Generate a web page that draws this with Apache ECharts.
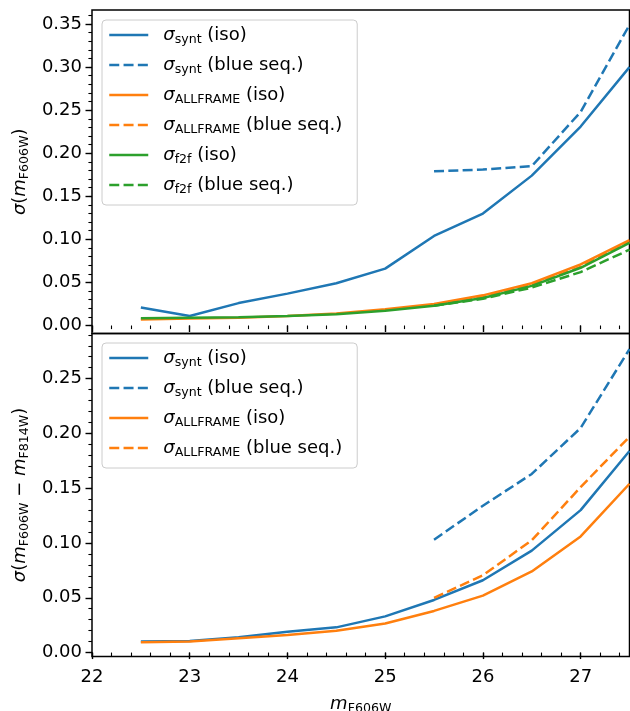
<!DOCTYPE html>
<html>
<head>
<meta charset="utf-8">
<script src="https://cdn.jsdelivr.net/npm/echarts@6/dist/echarts.min.js"></script>
<style>
  html, body { margin: 0; padding: 0; background: #fff; }
  #chart { width: 630px; height: 711px; }
</style>
</head>
<body>
<div id="chart"></div>
<script>
// magnitude bins (x)
const mag = [22.5, 23, 23.5, 24, 24.5, 25, 25.5, 26, 26.5, 27, 27.5];

// top panel: sigma(m_F606W)
const syntIsoTop      = [0.021, 0.011, 0.026, 0.037, 0.049, 0.066, 0.104, 0.130, 0.174, 0.231, 0.300];
const syntBlueTop     = [null, null, null, null, null, null, 0.179, 0.181, 0.185, 0.248, 0.349];
const allframeIsoTop  = [0.007, 0.008, 0.009, 0.011, 0.014, 0.019, 0.025, 0.035, 0.049, 0.071, 0.099];
const allframeBlueTop = [null, null, null, null, null, null, 0.024, 0.034, 0.047, 0.068, 0.097];
const f2fIsoTop       = [0.0085, 0.009, 0.0095, 0.011, 0.013, 0.017, 0.023, 0.032, 0.046, 0.067, 0.096];
const f2fBlueTop      = [null, null, null, null, null, null, 0.023, 0.031, 0.044, 0.062, 0.088];

// bottom panel: sigma(m_F606W - m_F814W)
const syntIsoBot      = [0.010, 0.0105, 0.014, 0.019, 0.023, 0.033, 0.048, 0.066, 0.093, 0.130, 0.184];
const syntBlueBot     = [null, null, null, null, null, null, 0.103, 0.134, 0.163, 0.205, 0.277];
const allframeIsoBot  = [0.0095, 0.010, 0.013, 0.016, 0.020, 0.0265, 0.038, 0.052, 0.074, 0.106, 0.154];
const allframeBlueBot = [null, null, null, null, null, null, 0.050, 0.0705, 0.1025, 0.151, 0.197];

// tick values
const xTicks = [22, 23, 24, 25, 26, 27];
const yTicksTop = [0, 0.05, 0.10, 0.15, 0.20, 0.25, 0.30, 0.35];
const yTicksBot = [0, 0.05, 0.10, 0.15, 0.20, 0.25];

const BLUE = '#1f77b4', ORANGE = '#ff7f0e', GREEN = '#2ca02c';
const FONT = 'DejaVu Sans';
const DASH = [10, 4.3];
const LW = 2.5;

function minorTicks(a, b, step) {
  const out = [];
  for (let v = a; v <= b + 1e-9; v += step) out.push(+v.toFixed(4));
  return out;
}

function pairs(arr) {
  const out = [];
  mag.forEach((m, i) => { if (arr[i] != null) out.push([m, arr[i]]); });
  return out;
}

// legend labels (rich text)
const labels = {
  'synt_iso_t': '{s|σ}{sub|synt}{n| (iso)}',
  'synt_blue_t': '{s|σ}{sub|synt}{n| (blue seq.)}',
  'af_iso_t': '{s|σ}{sub|ALLFRAME}{n| (iso)}',
  'af_blue_t': '{s|σ}{sub|ALLFRAME}{n| (blue seq.)}',
  'f2f_iso_t': '{s|σ}{sub|f2f}{n| (iso)}',
  'f2f_blue_t': '{s|σ}{sub|f2f}{n| (blue seq.)}',
  'synt_iso_b': '{s|σ}{sub|synt}{n| (iso)}',
  'synt_blue_b': '{s|σ}{sub|synt}{n| (blue seq.)}',
  'af_iso_b': '{s|σ}{sub|ALLFRAME}{n| (iso)}',
  'af_blue_b': '{s|σ}{sub|ALLFRAME}{n| (blue seq.)}'
};

const rich = {
  s: { fontFamily: FONT, fontStyle: 'italic', fontSize: 18, lineHeight: 22, color: '#000', padding: [0, 0, 0, 10] },
  sub: { fontFamily: FONT, fontSize: 12.6, lineHeight: 10, verticalAlign: 'bottom', color: '#000' },
  n: { fontFamily: FONT, fontSize: 18, lineHeight: 22, color: '#000' }
};
const nameRich = {
  s: { fontFamily: FONT, fontStyle: 'italic', fontSize: 18, lineHeight: 22, color: '#000' },
  sub: { fontFamily: FONT, fontSize: 12.6, lineHeight: 10, verticalAlign: 'bottom', color: '#000' },
  n: { fontFamily: FONT, fontSize: 18, lineHeight: 22, color: '#000' }
};

function line(name, data, color, dashed, axis) {
  return {
    name: name, type: 'line', data: pairs(data),
    xAxisIndex: axis, yAxisIndex: axis,
    symbol: 'none', showSymbol: false, smooth: false,
    lineStyle: { color: color, width: LW, type: dashed ? DASH : 'solid' },
    itemStyle: { color: color },
    emphasis: { disabled: true }
  };
}

function majorX(grid, showLabel, name) {
  return {
    type: 'value', gridIndex: grid, min: 22, max: 27.5,
    axisLine: { show: false },
    axisTick: { show: true, length: 6.5, customValues: xTicks, lineStyle: { color: '#000', width: 1.4 } },
    axisLabel: { show: showLabel, customValues: xTicks, margin: 12, fontSize: 18, fontFamily: FONT, color: '#000' },
    splitLine: { show: false },
    name: name || '', nameLocation: 'middle', nameGap: 37,
    nameTextStyle: { rich: nameRich }
  };
}
function minorX(grid) {
  return {
    type: 'value', gridIndex: grid, min: 22, max: 27.5,
    axisLine: { show: false },
    axisTick: { show: true, length: 3.6, customValues: minorTicks(22, 27.4, 0.2), lineStyle: { color: '#000', width: 1.1 } },
    axisLabel: { show: false }, splitLine: { show: false }
  };
}
function majorY(grid, min, max, ticks, name) {
  return {
    type: 'value', gridIndex: grid, min: min, max: max,
    axisLine: { show: false },
    axisTick: { show: true, length: 6.5, customValues: ticks, lineStyle: { color: '#000', width: 1.4 } },
    axisLabel: { show: true, customValues: ticks, margin: 10, fontSize: 18, fontFamily: FONT, color: '#000',
      formatter: v => v.toFixed(2) },
    splitLine: { show: false },
    name: name, nameLocation: 'middle', nameGap: 60, nameRotate: 90,
    nameTextStyle: { rich: nameRich }
  };
}
function minorY(grid, min, max, top) {
  return {
    type: 'value', gridIndex: grid, min: min, max: max,
    axisLine: { show: false },
    axisTick: { show: true, length: 3.6, customValues: minorTicks(0, top, 0.01), lineStyle: { color: '#000', width: 1.1 } },
    axisLabel: { show: false }, splitLine: { show: false }
  };
}

const topMin = -0.0093, topMax = 0.3663;
const botMin = -0.0036, botMax = 0.2912;

const gridTop = { left: 92, top: 10, width: 537.5, height: 323.5, outerBoundsMode: 'none', containLabel: false };
const gridBot = { left: 92, top: 333.5, width: 537.5, height: 323, outerBoundsMode: 'none', containLabel: false };

function legend(top, names) {
  return {
    orient: 'vertical', left: 102, top: top, data: names,
    itemWidth: 39, itemHeight: 22, itemGap: 10,
    padding: [6, 15, 9, 6],
    borderColor: '#cccccc', borderWidth: 1, borderRadius: 4,
    backgroundColor: 'rgba(255,255,255,0.8)',
    selectedMode: false,
    lineStyle: { width: LW },
    itemStyle: { color: 'rgba(0,0,0,0)', borderWidth: 0, opacity: 0 },
    formatter: n => labels[n],
    textStyle: { rich: rich, fontFamily: FONT, fontSize: 18, color: '#000' }
  };
}

const chart = echarts.init(document.getElementById('chart'), null, { renderer: 'canvas' });
chart.setOption({
  animation: false,
  backgroundColor: '#fff',
  grid: [
    Object.assign({ show: true, borderColor: '#000', borderWidth: 1.5, backgroundColor: 'transparent' }, gridTop),
    Object.assign({ show: false }, gridTop),
    Object.assign({ show: true, borderColor: '#000', borderWidth: 1.5, backgroundColor: 'transparent' }, gridBot),
    Object.assign({ show: false }, gridBot)
  ],
  xAxis: [majorX(0, false), minorX(1), majorX(2, true, '{s|m}{sub|F606W}'), minorX(3)],
  yAxis: [
    majorY(0, topMin, topMax, yTicksTop, '{s|σ}{n|(}{s|m}{sub|F606W}{n|)}'),
    minorY(1, topMin, topMax, 0.36),
    majorY(2, botMin, botMax, yTicksBot, '{s|σ}{n|(}{s|m}{sub|F606W}{n| − }{s|m}{sub|F814W}{n|)}'),
    minorY(3, botMin, botMax, 0.29)
  ],
  legend: [
    legend(20, ['synt_iso_t', 'synt_blue_t', 'af_iso_t', 'af_blue_t', 'f2f_iso_t', 'f2f_blue_t']),
    legend(343, ['synt_iso_b', 'synt_blue_b', 'af_iso_b', 'af_blue_b'])
  ],
  series: [
    line('synt_iso_t', syntIsoTop, BLUE, false, 0),
    line('synt_blue_t', syntBlueTop, BLUE, true, 0),
    line('af_iso_t', allframeIsoTop, ORANGE, false, 0),
    line('af_blue_t', allframeBlueTop, ORANGE, true, 0),
    line('f2f_iso_t', f2fIsoTop, GREEN, false, 0),
    line('f2f_blue_t', f2fBlueTop, GREEN, true, 0),
    line('synt_iso_b', syntIsoBot, BLUE, false, 2),
    line('synt_blue_b', syntBlueBot, BLUE, true, 2),
    line('af_iso_b', allframeIsoBot, ORANGE, false, 2),
    line('af_blue_b', allframeBlueBot, ORANGE, true, 2)
  ]
});
</script>
</body>
</html>
